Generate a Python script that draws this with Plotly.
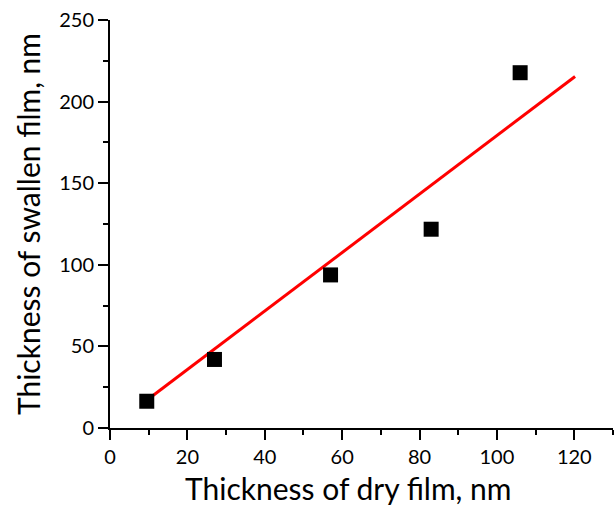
import plotly.graph_objects as go

dry = [9.5, 27, 57, 83, 106]
swollen = [16.4, 42, 93.8, 121.8, 217.7]
fit_x = [9.5, 120.2]
fit_y = [17.0, 215.4]

x_title = "Thickness of dry film, nm"
y_title = "Thickness of swallen film, nm"

fig = go.Figure()
fig.add_trace(go.Scatter(x=fit_x, y=fit_y, mode="lines",
                         line=dict(color="#ff0000", width=3), showlegend=False))
fig.add_trace(go.Scatter(x=dry, y=swollen, mode="markers",
                         marker=dict(symbol="square", size=15, color="black"),
                         showlegend=False))

font_family = "Lato, Open Sans, sans-serif"
axis_common = dict(
    showgrid=False, zeroline=False, showline=True, linecolor="black", linewidth=2,
    ticks="outside", ticklen=10, tickwidth=2, tickcolor="black",
    tickfont=dict(size=20, color="black", family=font_family),
)
fig.update_xaxes(range=[0, 130], dtick=20, tick0=0,
                 minor=dict(ticks="outside", ticklen=5, tickwidth=2, dtick=10, tickcolor="black"),
                 **axis_common)
fig.update_yaxes(range=[0, 250], dtick=50, tick0=0,
                 minor=dict(ticks="outside", ticklen=5, tickwidth=2, dtick=25, tickcolor="black"),
                 title=dict(text=y_title, font=dict(size=30, color="black", family=font_family), standoff=10),
                 **axis_common)
fig.add_annotation(text=x_title, xref="paper", yref="paper", x=0.475, y=0,
                   xanchor="center", yanchor="top", yshift=-41, showarrow=False,
                   borderpad=0, font=dict(size=30, color="black", family=font_family))
fig.update_layout(width=614, height=506, margin=dict(l=110, r=1, t=20, b=78),
                  plot_bgcolor="white", paper_bgcolor="white")
fig.write_html("out.html")
